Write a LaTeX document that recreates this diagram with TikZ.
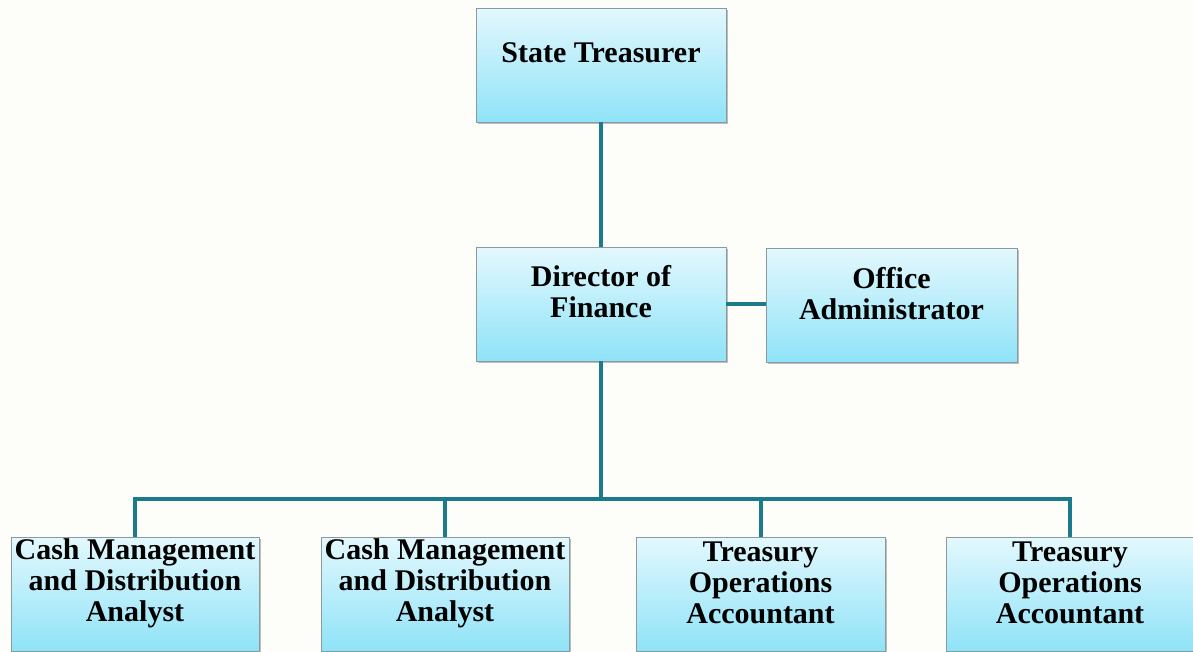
\documentclass[tikz,border=0pt]{standalone}
\usepackage{fontspec}
\setmainfont{Liberation Serif}
\usetikzlibrary{shadows}
\definecolor{bgpaper}{HTML}{FDFDFA}
\definecolor{boxtop}{HTML}{E3F8FD}
\definecolor{boxbot}{HTML}{8FE3F8}
\definecolor{boxline}{HTML}{8A9A9F}
\definecolor{linkteal}{HTML}{1B7B8C}
\tikzset{
  post/.style={rectangle, draw=boxline, line width=0.9pt, top color=boxtop, bottom color=boxbot,
    minimum width=250, minimum height=114, inner sep=0pt,
    drop shadow={shadow xshift=2pt, shadow yshift=-2pt, fill=black, opacity=0.25}},
  title/.style={align=center, font=\fontsize{30}{31}\selectfont\bfseries, inner sep=0pt},
  link/.style={draw=linkteal, line width=4pt}
}
\begin{document}
\begin{tikzpicture}[x=1pt,y=-1pt]
  \fill[bgpaper] (0,0) rectangle (1193,651);
  \useasboundingbox (0,0) rectangle (1193,651);
  % boxes
  \node[post] (st) at (601,65) {};
  \node[post] (dir) at (601,304) {};
  \node[post, minimum width=251] (off) at (891.5,305) {};
  \node[post, minimum width=248] (a1) at (135,594) {};
  \node[post, minimum width=248] (a2) at (445,594) {};
  \node[post, minimum width=249] (a3) at (760.5,594) {};
  \node[post, minimum width=248] (a4) at (1070,594) {};
  % links
  \coordinate (bus) at (601,499);
  \draw[link] (st) -- (dir);
  \draw[link] (dir.east) -- (dir.east -| off.west);
  \draw[link] (dir) -- (bus);
  \foreach \n in {a1,a2,a3,a4}
    \draw[link] (bus) -| (\n.north);
  % titles
  \node[title] (stt) at ([yshift=12pt]st.center) {State Treasurer};
  \node[title] (dirt) at ([yshift=12pt]dir.center) {Director of\\Finance};
  \node[title] (offt) at ([yshift=11pt]off.center) {Office\\Administrator};
  \node[title] (a1t) at ([yshift=11pt]a1.center) {Cash Management\\and Distribution\\Analyst};
  \node[title] (a2t) at ([yshift=11pt]a2.center) {Cash Management\\and Distribution\\Analyst};
  \node[title] (a3t) at ([yshift=11pt]a3.center) {Treasury\\Operations\\Accountant};
  \node[title] (a4t) at ([yshift=11pt]a4.center) {Treasury\\Operations\\Accountant};
\end{tikzpicture}
\end{document}
